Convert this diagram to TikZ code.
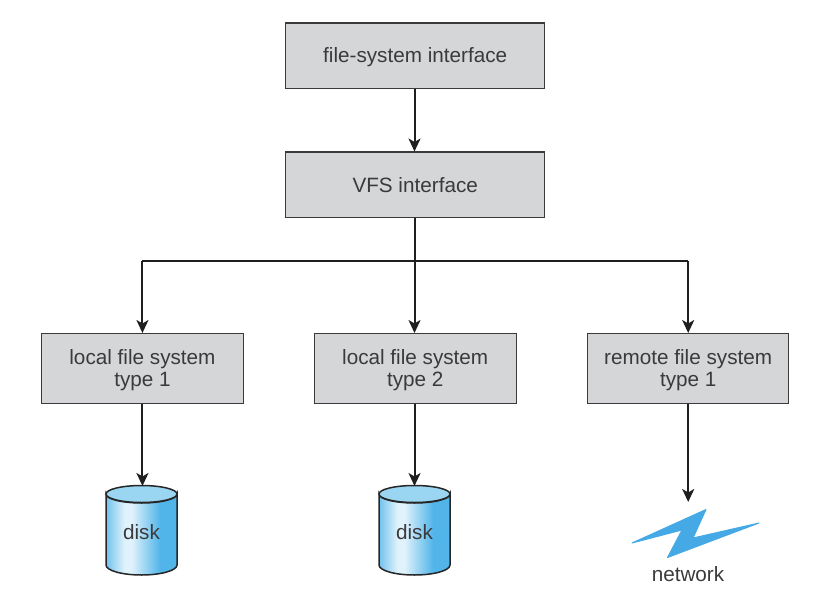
\documentclass[tikz,border=0pt]{standalone}
\usepackage{fontspec}
\setmainfont{Liberation Sans}
\usetikzlibrary{arrows.meta}
\definecolor{boxfill}{HTML}{D5D6D8}
\definecolor{boxline}{HTML}{3A3A3C}
\definecolor{inktext}{HTML}{3A3A3D}
\definecolor{diskblue}{HTML}{52B5EA}
\definecolor{diskedge}{HTML}{72C2EE}
\definecolor{disklight}{HTML}{E0F2FB}
\definecolor{disktop}{HTML}{9AD6F2}
\definecolor{boltblue}{HTML}{45A9E6}
\pgfdeclarehorizontalshading{diskshade}{100bp}{
  color(0bp)=(diskedge); color(25bp)=(diskedge); color(38bp)=(disklight);
  color(43bp)=(disklight); color(63bp)=(diskblue); color(75bp)=(diskblue); color(100bp)=(diskblue)}
\newcommand{\lowertext}[2]{\raisebox{-#1}[\height][\depth]{#2}}
\tikzset{
  x=1pt,y=-1pt,
  lab/.style={font=\fontsize{20.7}{22}\selectfont,text=inktext,align=center},
  gbox/.style={draw=boxline,line width=1.4pt,fill=boxfill,lab,inner sep=0pt,anchor=north west},
  link/.style={draw=black!88,line width=2pt,-{Stealth[length=13pt,width=12pt,inset=3.5pt]}},
  trunk/.style={draw=black!88,line width=2pt},
  diskline/.style={draw=black!85,line width=1.5pt},
}
\newcommand{\diskat}[2]{%
  \path[shading=diskshade,diskline,draw] (#1-35.5,494) -- (#1-35.5,565)
     arc[start angle=180,end angle=360,x radius=35.5,y radius=-10] -- (#1+35.5,494)
     arc[start angle=0,end angle=-180,x radius=35.5,y radius=-9] -- cycle;
  \path[fill=disktop,diskline] (#1,494) ellipse[x radius=35.5,y radius=8.5];
  \node[lab] (#2) at (#1,532) {disk};
  \coordinate (#2top) at (#1,486);
}
\begin{document}
\begin{tikzpicture}
\useasboundingbox (0,0) rectangle (816,596);
\node[gbox,minimum width=259pt,minimum height=65.5pt] (fsi) at (285,22.5) {\lowertext{1pt}{file-system interface}};
\node[gbox,minimum width=259pt,minimum height=65.5pt] (vfs) at (285,151.5) {VFS interface};
\node[gbox,minimum width=201.5pt,minimum height=69.5pt] (l1) at (41,333) {\lowertext{2pt}{local file system}\\\lowertext{2pt}{type 1}};
\node[gbox,minimum width=202pt,minimum height=69.5pt] (l2) at (313.5,333) {\lowertext{2pt}{local file system}\\\lowertext{2pt}{type 2}};
\node[gbox,minimum width=201pt,minimum height=69.5pt] (r1) at (587,333) {\lowertext{2pt}{remote file system}\\\lowertext{2pt}{type 1}};
\diskat{141.5}{d1}
\diskat{414.5}{d2}
\coordinate (bus) at (414.5,261);
\coordinate (nettop) at (688,502);
\draw[link] (fsi.south -| bus) -- (vfs.north -| bus);
\draw[trunk] (vfs.south -| bus) -- (bus);
\draw[trunk] (l1.north |- bus) -- (r1.north |- bus);
\draw[link] (l1.north |- bus) -- (l1.north);
\draw[link] (bus) -- (l2.north -| bus);
\draw[link] (r1.north |- bus) -- (r1.north);
\draw[link] (l1.south) -- (l1.south |- d1top);
\draw[link] (l2.south -| bus) -- (bus |- d2top);
\draw[link] (r1.south) -- (r1.south |- nettop);
\fill[boltblue,draw=boltblue,line width=1pt,line join=round]
  (632,543) -- (706,509.5) -- (693,538) -- (759,523) -- (667.5,557.5) -- (682,530) -- cycle;
\node[lab] (net) at (688,574.5) {network};
\end{tikzpicture}
\end{document}
